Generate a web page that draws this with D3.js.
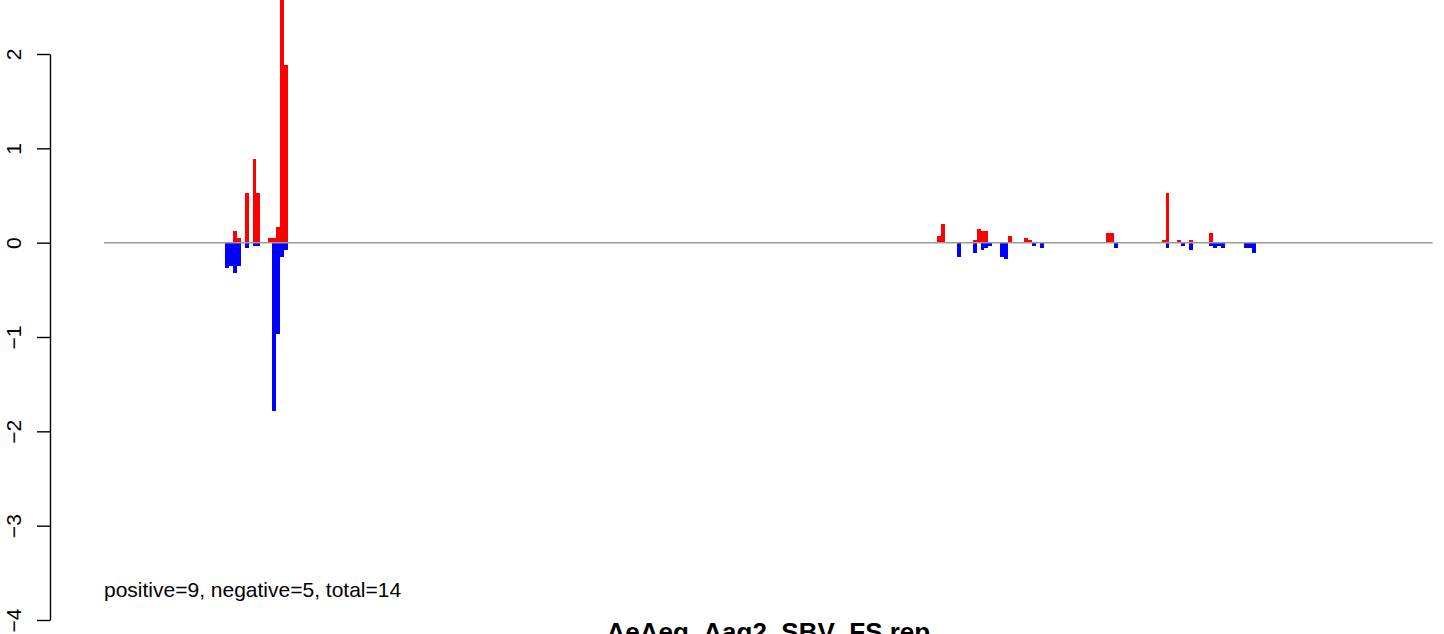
<!DOCTYPE html>
<html>
<head>
<meta charset="utf-8">
<script src="https://cdn.jsdelivr.net/npm/d3@7"></script>
<style>
  html, body { margin: 0; padding: 0; background: #fff; }
  svg { display: block; font-family: "Liberation Sans", Arial, Helvetica, sans-serif; }
</style>
</head>
<body>
<svg id="chart" width="1444" height="634"></svg>
<script>
// ---- data ----
// bin index along the sequence
const bins = [0, 1, 2, 3, 5, 7, 8, 11, 12, 13, 14, 15,
  181, 182, 186, 190, 191, 192, 193, 194, 197, 198, 199, 203, 204, 205, 207,
  224, 225, 226, 238, 239, 242, 243, 245, 250, 251, 252, 253, 259, 260, 261];
// positive-strand values (red)
const posValues = [0, 0, 0.124, 0.05, 0.527, 0.887, 0.527, 0.05, 0.05, 0.166, 2.9, 1.88,
  0.071, 0.198, 0, 0.028, 0.145, 0.124, 0.124, 0, 0, 0, 0.071, 0.05, 0.028, 0, 0,
  0.103, 0.103, 0, 0.028, 0.527, 0.028, 0, 0.028, 0.103, 0, 0, 0, 0, 0, 0];
// negative-strand values (blue)
const negValues = [-0.265, -0.244, -0.318, -0.244, -0.053, -0.032, -0.032, 0, -1.78, -0.965, -0.148, -0.074,
  0, 0, -0.148, -0.106, 0, -0.074, -0.053, -0.032, -0.148, -0.17, 0, 0, 0, -0.032, -0.053,
  0, 0, -0.053, 0, -0.053, 0, -0.032, -0.074, -0.032, -0.053, -0.032, -0.053, -0.053, -0.053, -0.106];
const yTicks = [-4, -3, -2, -1, 0, 1, 2];
const title = "AeAeg_Aag2_SBV_FS.rep";
const summary = "positive=9, negative=5, total=14";

// ---- layout ----
const svg = d3.select("#chart");
const x = d3.scaleLinear().domain([-30.75, 306.9]).range([104, 1432.7]);
const y = d3.scaleLinear().domain([-4, 2]).range([620, 54]);

const data = bins.map((b, i) => ({ bin: b, pos: posValues[i], neg: negValues[i] }));

// positive bars
svg.append("g").attr("shape-rendering", "crispEdges")
  .selectAll("rect").data(data.filter(d => d.pos > 0)).join("rect")
  .attr("x", d => x(d.bin))
  .attr("width", d => x(d.bin + 1) - x(d.bin))
  .attr("y", d => y(d.pos))
  .attr("height", d => y(0) - y(d.pos))
  .attr("fill", "#ff0000");

// negative bars
svg.append("g").attr("shape-rendering", "crispEdges")
  .selectAll("rect").data(data.filter(d => d.neg < 0)).join("rect")
  .attr("x", d => x(d.bin))
  .attr("width", d => x(d.bin + 1) - x(d.bin))
  .attr("y", y(0))
  .attr("height", d => y(d.neg) - y(0))
  .attr("fill", "#0000ff");

// zero line
svg.append("line")
  .attr("x1", x.range()[0]).attr("x2", x.range()[1])
  .attr("y1", y(0)).attr("y2", y(0))
  .attr("stroke", "#9a9a9a").attr("stroke-width", 1.5);

// y axis
const yAxis = d3.axisLeft(y).tickValues(yTicks).tickSize(13).tickSizeOuter(0)
  .tickFormat(d3.format("d"));
const ag = svg.append("g").attr("transform", "translate(50,0)").call(yAxis);
ag.select(".domain").attr("stroke", "#000").attr("stroke-width", 1.4);
ag.selectAll(".tick line").attr("stroke", "#000").attr("stroke-width", 1.4);
ag.selectAll(".tick text")
  .attr("font-size", 21)
  .attr("fill", "#000")
  .attr("text-anchor", "middle")
  .attr("dy", null)
  .attr("x", null)
  .attr("transform", "translate(-29,0) rotate(-90)");

// summary text
svg.append("text")
  .attr("x", 104).attr("y", 597)
  .attr("font-size", 21)
  .attr("fill", "#000")
  .text(summary);

// title (bottom, partially cut off)
svg.append("text")
  .attr("x", (x.range()[0] + x.range()[1]) / 2).attr("y", 641)
  .attr("text-anchor", "middle")
  .attr("font-size", 26).attr("font-weight", "bold")
  .attr("fill", "#000")
  .text(title);
</script>
</body>
</html>
